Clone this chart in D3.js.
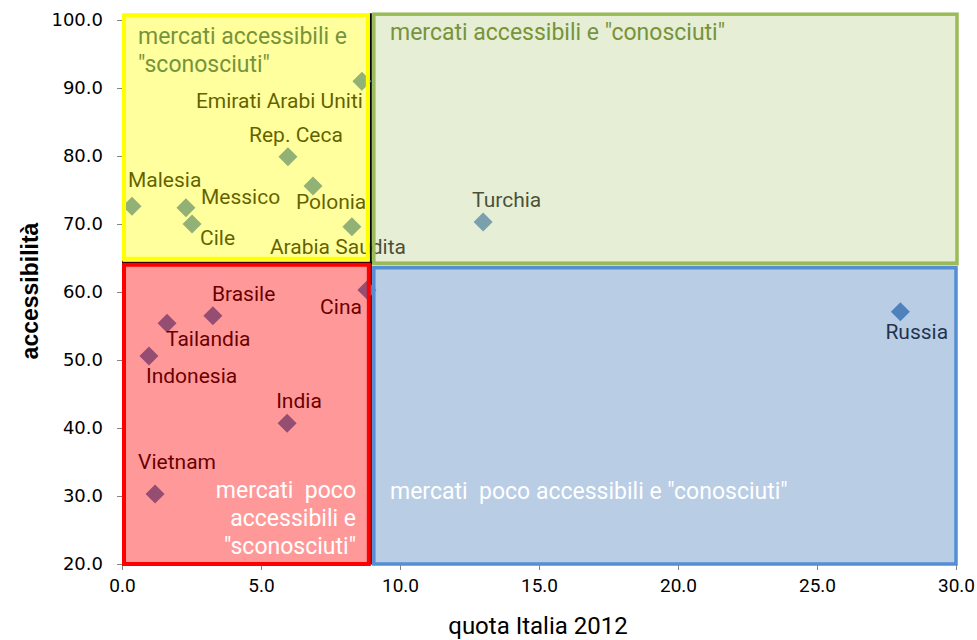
<!DOCTYPE html>
<html>
<head>
<meta charset="utf-8">
<script src="https://cdn.jsdelivr.net/npm/d3@7"></script>
<style>
    body { margin: 0; background: #fff; }
    svg { display: block; }
</style>
</head>
<body>
<div id="chart"></div>
<script>
///// DATA /////
const countries = ["Emirati Arabi Uniti", "Rep. Ceca", "Polonia", "Malesia", "Messico", "Cile", "Arabia Saudita",
    "Cina", "Brasile", "Tailandia", "Indonesia", "India", "Vietnam", "Turchia", "Russia"];
const quotaItalia = [8.63, 5.97, 6.87, 0.36, 2.30, 2.52, 8.27, 8.81, 3.27, 1.62, 0.97, 5.94, 1.19, 12.99, 28.0];
const accessibilita = [91.0, 79.9, 75.6, 72.6, 72.4, 70.0, 69.6, 60.3, 56.5, 55.4, 50.6, 40.7, 30.3, 70.3, 57.1];

const xTicks = [0, 5, 10, 15, 20, 25, 30];
const yTicks = [20, 30, 40, 50, 60, 70, 80, 90, 100];

const xSplit = 8.95;   // soglia quota
const ySplit = 64.3;   // soglia accessibilità

// label placement (pixel offsets from the marker)
const labelPos = {
    "Emirati Arabi Uniti": [1, 27, "end"],
    "Rep. Ceca": [8, -15, "middle"],
    "Polonia": [-17, 23, "start"],
    "Malesia": [-4, -19, "start"],
    "Messico": [15, -4, "start"],
    "Cile": [8, 21, "start"],
    "Arabia Saudita": [-82, 27, "start"],
    "Cina": [-5, 24, "end"],
    "Brasile": [-1, -15, "start"],
    "Tailandia": [-1, 23, "start"],
    "Indonesia": [-3, 27, "start"],
    "India": [-11, -15, "start"],
    "Vietnam": [-17, -25, "start"],
    "Turchia": [-11, -15, "start"],
    "Russia": [-15, 27, "start"]
};

///// CHART /////
const width = 977;
const height = 640;
const labelFont = "'Roboto', 'Liberation Sans', sans-serif";

const x = d3.scaleLinear().domain([0, 30]).range([122, 956]);
const y = d3.scaleLinear().domain([20, 100]).range([564, 20]);

const svg = d3.select("#chart").append("svg")
    .attr("width", width)
    .attr("height", height);

// axes
const xAxis = svg.append("g")
    .attr("transform", `translate(0,${y(20)})`)
    .call(d3.axisBottom(x).tickValues(xTicks).tickSize(6).tickFormat(d3.format(".1f")));
const yAxis = svg.append("g")
    .attr("transform", `translate(${x(0)},0)`)
    .call(d3.axisLeft(y).tickValues(yTicks).tickSize(5).tickFormat(d3.format(".1f")));

[xAxis, yAxis].forEach(a => {
    a.select(".domain").attr("stroke", "#868686");
    a.selectAll(".tick line").attr("stroke", "#868686");
});
xAxis.selectAll(".tick text")
    .attr("dy", "1.0em")
    .style("font", `19px ${labelFont}`)
    .attr("fill", "#000");
yAxis.selectAll(".tick text")
    .attr("x", -19)
    .style("font", "18px 'DejaVu Sans', sans-serif")
    .attr("fill", "#000");

svg.append("text")
    .attr("x", 538)
    .attr("y", 634)
    .attr("text-anchor", "middle")
    .style("font", `24px ${labelFont}`)
    .text("quota Italia 2012");

svg.append("text")
    .attr("transform", `translate(38,${291}) rotate(-90)`)
    .attr("text-anchor", "middle")
    .style("font", "bold 23px 'Liberation Sans', sans-serif")
    .text("accessibilità");

// divider lines (mostly under the boxes)
svg.append("line")
    .attr("x1", x(xSplit)).attr("x2", x(xSplit))
    .attr("y1", y(101)).attr("y2", y(20))
    .attr("stroke", "#000").attr("stroke-width", 2);
svg.append("line")
    .attr("x1", x(0)).attr("x2", x(30))
    .attr("y1", y(ySplit)).attr("y2", y(ySplit))
    .attr("stroke", "#000").attr("stroke-width", 2);

// points
const data = countries.map((name, i) => ({ name, q: quotaItalia[i], a: accessibilita[i] }));

svg.append("g")
    .selectAll("path")
    .data(data)
    .join("path")
    .attr("transform", d => `translate(${x(d.q)},${y(d.a)})`)
    .attr("d", d3.symbol(d3.symbolDiamond2, 230))
    .attr("fill", "#4f81bd");

svg.append("g")
    .style("font", `21px ${labelFont}`)
    .selectAll("text")
    .data(data)
    .join("text")
    .attr("x", d => x(d.q) + labelPos[d.name][0])
    .attr("y", d => y(d.a) + labelPos[d.name][1])
    .attr("text-anchor", d => labelPos[d.name][2])
    .attr("fill", "#000")
    .text(d => d.name);

///// QUADRANT OVERLAYS /////
const xm = x(xSplit), ym = y(ySplit);
const boxes = [
    { x0: x(0) + 2, x1: xm - 3, y0: y(101) + 2, y1: ym - 4, fill: "#ffff00", op: 0.38, stroke: "#ffff00", sw: 4 },
    { x0: xm + 3, x1: x(30) + 1, y0: y(101) + 1, y1: ym + 1, fill: "#bdd291", op: 0.38, stroke: "#9bbb59", sw: 3.5 },
    { x0: x(0) + 2, x1: xm - 2, y0: ym + 2, y1: y(20), fill: "#ff0000", op: 0.4, stroke: "#ff0000", sw: 4 },
    { x0: xm + 3, x1: x(30), y0: ym + 5, y1: y(20), fill: "#4f81bd", op: 0.4, stroke: "#558ed5", sw: 3.5 }
];

svg.append("g")
    .selectAll("rect")
    .data(boxes)
    .join("rect")
    .attr("x", d => d.x0)
    .attr("y", d => d.y0)
    .attr("width", d => d.x1 - d.x0)
    .attr("height", d => d.y1 - d.y0)
    .attr("fill", d => d.fill)
    .attr("fill-opacity", d => d.op)
    .attr("stroke", d => d.stroke)
    .attr("stroke-width", d => d.sw);

// quadrant titles
const titleFont = `23px ${labelFont}`;
const titles = [
    { lines: ["mercati accessibili e", "\"sconosciuti\""], x: 138, y: 44, anchor: "start", color: "#77933c" },
    { lines: ["mercati accessibili e \"conosciuti\""], x: 390, y: 40, anchor: "start", color: "#77933c" },
    { lines: ["mercati  poco", "accessibili e", "\"sconosciuti\""], x: 356, y: 498, anchor: "end", color: "#fff" },
    { lines: ["mercati  poco accessibili e \"conosciuti\""], x: 390, y: 499, anchor: "start", color: "#fff" }
];

titles.forEach(t => {
    const txt = svg.append("text")
        .attr("x", t.x)
        .attr("y", t.y)
        .attr("text-anchor", t.anchor)
        .attr("fill", t.color)
        .style("font", titleFont)
        .style("white-space", "pre");
    t.lines.forEach((l, i) => {
        txt.append("tspan")
            .attr("x", t.x)
            .attr("dy", i === 0 ? 0 : 28)
            .text(l);
    });
});
</script>
</body>
</html>
